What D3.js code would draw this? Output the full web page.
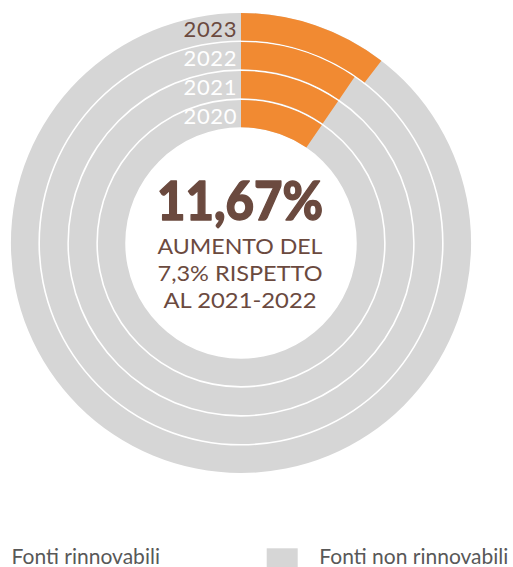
<!DOCTYPE html>
<html>
<head>
<meta charset="utf-8">
<script src="https://cdn.jsdelivr.net/npm/d3@7"></script>
<style>
  html, body { margin: 0; padding: 0; background: #fff; }
  svg { display: block; }
</style>
</head>
<body>
<svg id="chart" width="513" height="567"></svg>
<script>
// Share of renewable sources per year (%), innermost ring first
const years = ["2020", "2021", "2022", "2023"];
const renewableShare = [10.67, 10.67, 10.67, 11.67];

// Centre annotation
const headline = "11,67%";
const subtitleLines = ["AUMENTO DEL", "7,3% RISPETTO", "AL 2021-2022"];

// Legend entries
const legendLabels = ["Fonti rinnovabili", "Fonti non rinnovabili"];

const W = 513, H = 567;
const cx = 241, cy = 243;
const innerR = 115.7, outerR = 230;
const FONT = "Lato, 'Noto Sans', sans-serif";
const colors = {
  renew: "#F18A32",
  other: "#D6D6D6",
  brown: "#6B4A3F",
  legend: "#585858"
};

const svg = d3.select("#chart");
const g = svg.append("g").attr("transform", `translate(${cx},${cy})`);

// One band per year, from the inner ring outwards
const ring = d3.scaleBand().domain(years).range([innerR, outerR]).paddingInner(0.055);
const bw = ring.bandwidth();
// Angular scale for the share values
const angle = d3.scaleLinear().domain([0, 111.7]).range([0, 2 * Math.PI]);
const arc = d3.arc();

const rows = years.map((y, i) => ({ year: y, value: renewableShare[i] }));

// Full grey ring (non-renewable) underneath
g.selectAll("path.other")
  .data(rows)
  .join("path")
  .attr("class", "other")
  .attr("fill", colors.other)
  .attr("d", d => arc({
    innerRadius: ring(d.year),
    outerRadius: ring(d.year) + bw,
    startAngle: 0,
    endAngle: 2 * Math.PI
  }));

// Renewable arc starting from twelve o'clock
g.selectAll("path.renew")
  .data(rows)
  .join("path")
  .attr("class", "renew")
  .attr("fill", colors.renew)
  .attr("d", d => arc({
    innerRadius: ring(d.year),
    outerRadius: ring(d.year) + bw,
    startAngle: 0,
    endAngle: angle(d.value)
  }));

// Year labels, right-aligned just left of the arc start
const lastYear = years[years.length - 1];
g.selectAll("text.year")
  .data(rows)
  .join("text")
  .attr("class", "year")
  .attr("x", -4)
  .attr("y", d => -(ring(d.year) + bw / 2) + 10.5)
  .attr("text-anchor", "end")
  .attr("font-family", FONT)
  .attr("font-size", 22)
  .attr("letter-spacing", 0.6)
  .attr("fill", d => d.year === lastYear ? colors.brown : "#fff")
  .text(d => d.year);

// Centre headline
g.append("text")
  .attr("x", -1)
  .attr("y", -23)
  .attr("text-anchor", "middle")
  .attr("font-family", FONT)
  .attr("font-weight", 900)
  .attr("font-size", 53)
  .attr("fill", colors.brown)
  .attr("stroke", colors.brown)
  .attr("stroke-width", 1.4)
  .attr("stroke-linejoin", "round")
  .attr("textLength", 166)
  .attr("lengthAdjust", "spacingAndGlyphs")
  .text(headline);

const subWidths = [165, 165, 153];
g.selectAll("text.sub")
  .data(subtitleLines)
  .join("text")
  .attr("class", "sub")
  .attr("x", -1)
  .attr("y", (d, i) => 11.3 + i * 26.7)
  .attr("text-anchor", "middle")
  .attr("font-family", FONT)
  .attr("font-size", 20.5)
  .attr("fill", colors.brown)
  .attr("textLength", (d, i) => subWidths[i])
  .attr("lengthAdjust", "spacingAndGlyphs")
  .text(d => d);

// Legend along the bottom edge
const legendColors = [colors.renew, colors.other];
const legendX = [-41, 266.7];
const legend = svg.append("g");
const items = legend.selectAll("g.item")
  .data(legendLabels)
  .join("g")
  .attr("class", "item")
  .attr("transform", (d, i) => `translate(${legendX[i]},548.3)`);

items.append("rect")
  .attr("width", 31)
  .attr("height", 31)
  .attr("fill", (d, i) => legendColors[i]);

items.append("text")
  .attr("x", 52.6)
  .attr("y", 16)
  .attr("font-family", FONT)
  .attr("font-size", 21)
  .attr("fill", colors.legend)
  .text(d => d);
</script>
</body>
</html>
